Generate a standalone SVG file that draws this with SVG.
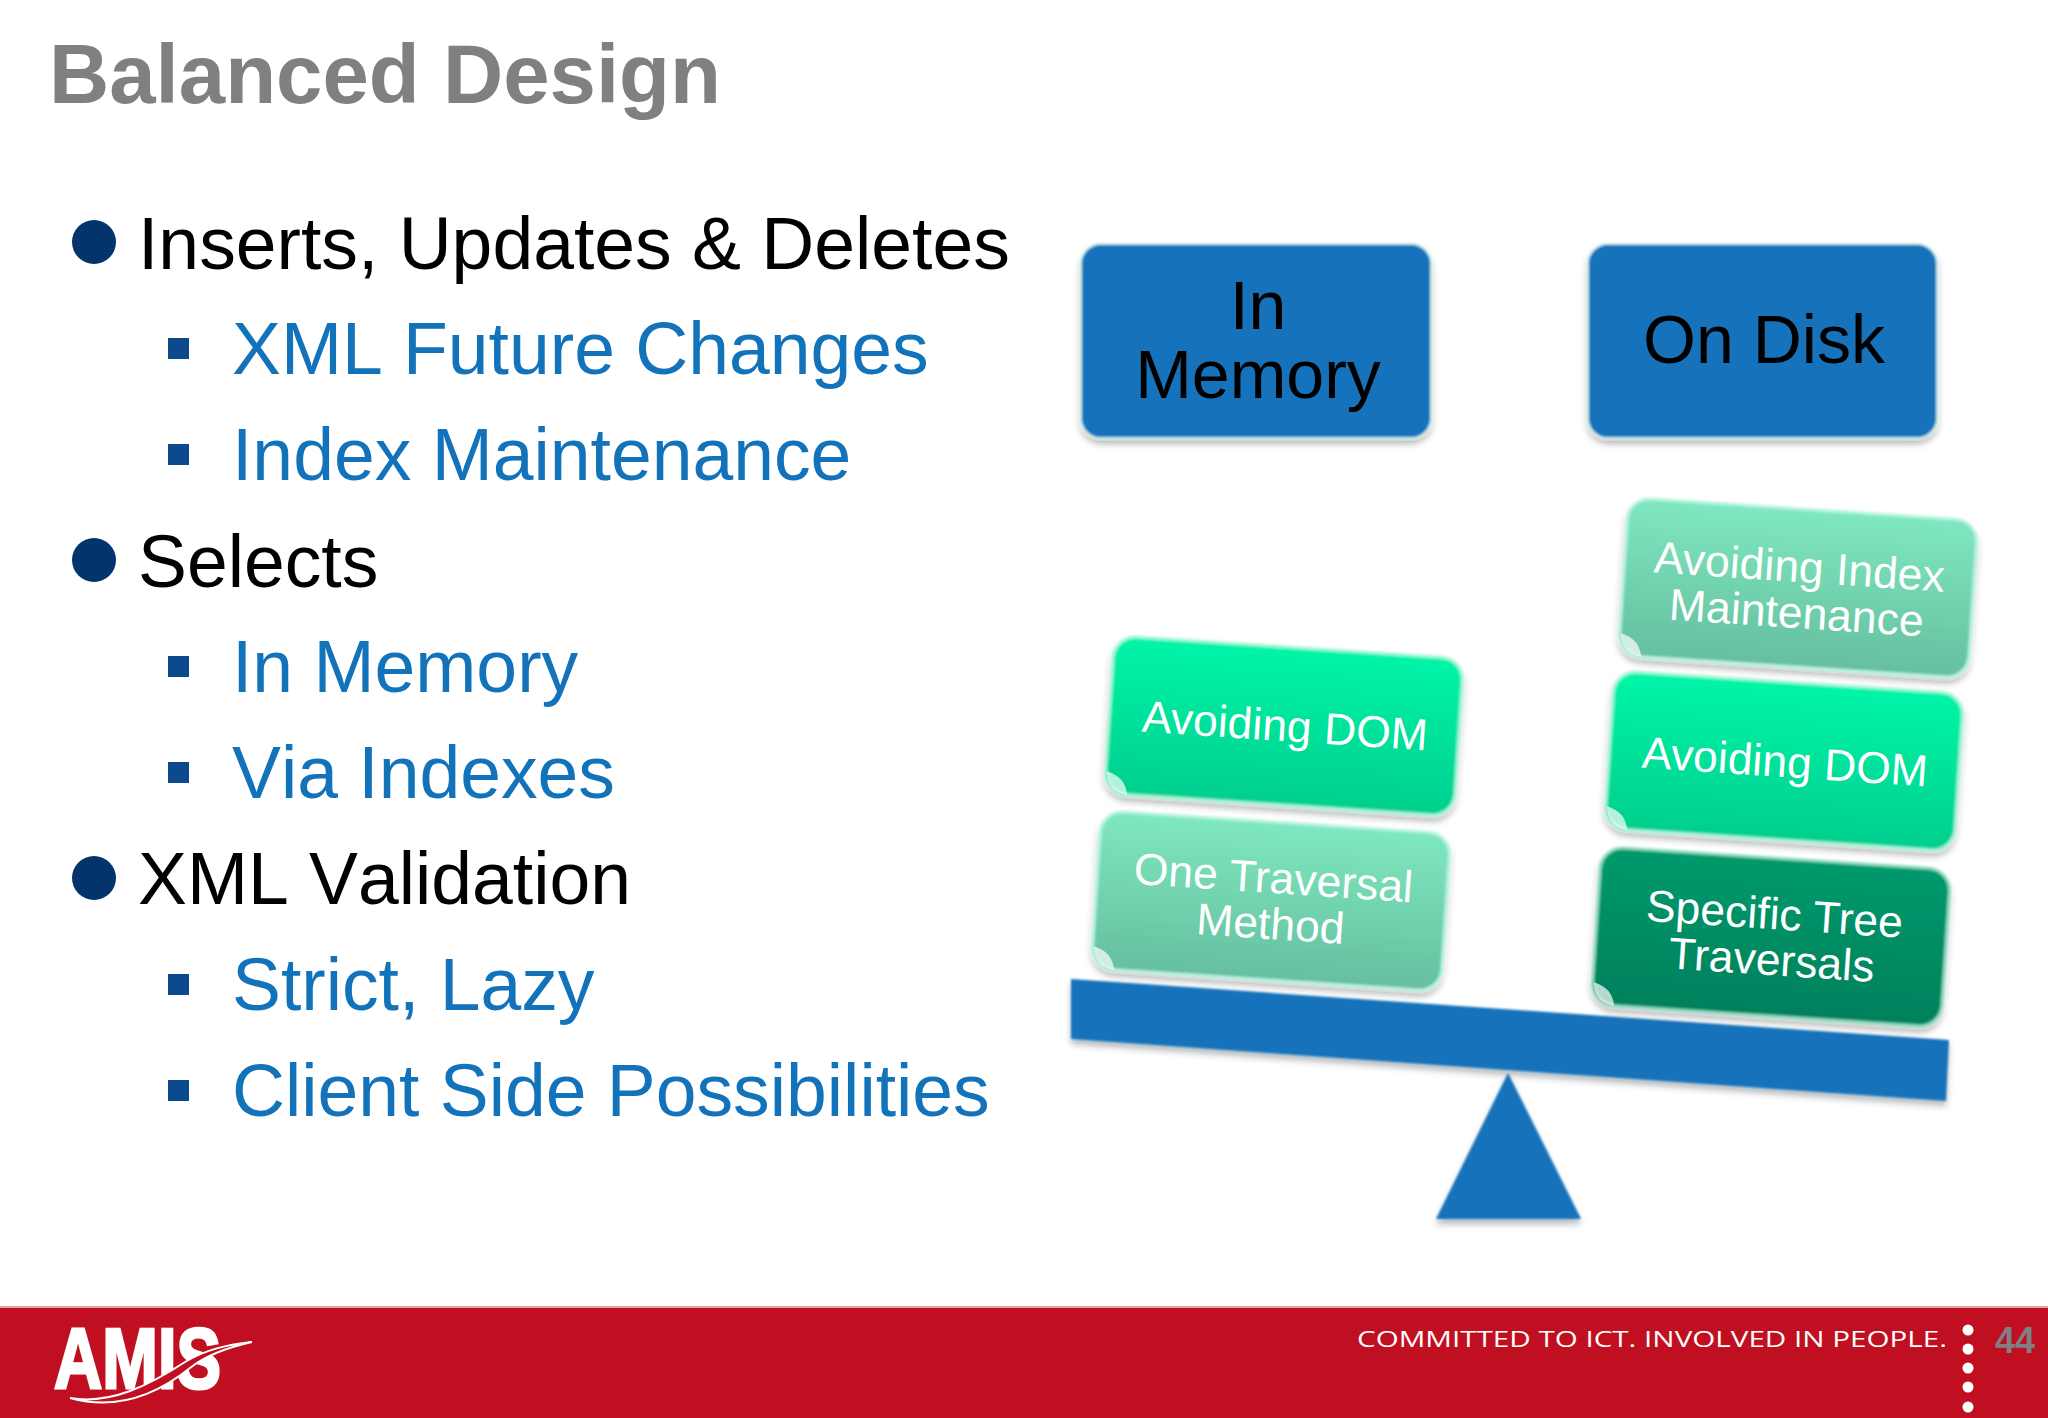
<svg xmlns="http://www.w3.org/2000/svg" width="2048" height="1418" viewBox="0 0 2048 1418">
<style>
text{font-family:"Liberation Sans",Arial,sans-serif}
.l1{font-size:73.3px;fill:#000;font-kerning:none}
.l2{font-size:73.3px;fill:#1272ba;font-kerning:none}
.dot{fill:#03346b}
.sq{fill:#0c4a8c}
.top{font-size:68px;fill:#000;text-anchor:middle}
.bt{font-size:44.5px;fill:#fff;text-anchor:middle}
.hl{fill:#fff;opacity:.7}
.foot{fill:#fff}
</style>
<defs>
<linearGradient id="gBright" x1="0" y1="0" x2="0" y2="1"><stop offset="0" stop-color="#00f5a8"/><stop offset="1" stop-color="#00cf8e"/></linearGradient>
<linearGradient id="gPale" x1="0" y1="0" x2="0" y2="1"><stop offset="0" stop-color="#7fe8c0"/><stop offset="1" stop-color="#66bf9f"/></linearGradient>
<linearGradient id="gDark" x1="0" y1="0" x2="0" y2="1"><stop offset="0" stop-color="#009a6c"/><stop offset="1" stop-color="#00805c"/></linearGradient>
<filter id="sh" x="-10%" y="-10%" width="120%" height="125%"><feGaussianBlur in="SourceGraphic" stdDeviation=".8" result="b"/><feDropShadow in="b" dx="0" dy="5" stdDeviation="3" flood-color="#000" flood-opacity=".28"/></filter>
</defs>
<rect width="2048" height="1418" fill="#fff"/>
<text id="title" x="49" y="103" style="font-size:83.4px;font-weight:700" fill="#808080">Balanced Design</text>
<g id="bullets">
<circle class="dot" cx="94" cy="242" r="22"/><text class="l1" x="138" y="269">Inserts, Updates &amp; Deletes</text>
<rect class="sq" x="168" y="338" width="21" height="21"/><text class="l2" x="232" y="374">XML Future Changes</text>
<rect class="sq" x="168" y="444" width="21" height="21"/><text class="l2" x="232" y="480">Index Maintenance</text>
<circle class="dot" cx="94" cy="560" r="22"/><text class="l1" x="138" y="587">Selects</text>
<rect class="sq" x="168" y="656" width="21" height="21"/><text class="l2" x="232" y="692">In Memory</text>
<rect class="sq" x="168" y="762" width="21" height="21"/><text class="l2" x="232" y="798">Via Indexes</text>
<circle class="dot" cx="94" cy="878" r="22"/><text class="l1" x="138" y="904">XML Validation</text>
<rect class="sq" x="168" y="974" width="21" height="21"/><text class="l2" x="232" y="1010">Strict, Lazy</text>
<rect class="sq" x="168" y="1080" width="21" height="21"/><text class="l2" x="232" y="1116">Client Side Possibilities</text>
</g>
<g id="node-in-memory">
<rect x="1081" y="244" width="350" height="194" rx="20" fill="#1272ba" stroke="#bfe9e6" stroke-width="2" filter="url(#sh)"/>
<text class="top" x="1258" y="329">In</text><text class="top" x="1258" y="398">Memory</text>
</g>
<g id="node-on-disk">
<rect x="1588" y="244" width="349" height="194" rx="20" fill="#1272ba" stroke="#bfe9e6" stroke-width="2" filter="url(#sh)"/>
<text class="top" x="1764" y="363">On Disk</text>
</g>
<g id="connectors"/>
<g id="node-beam"><polygon points="1071,979 1949,1040 1946,1101 1071,1039" fill="#1272ba" filter="url(#sh)"/></g>
<g id="node-fulcrum"><polygon points="1508,1073 1436,1219 1581,1219" fill="#1272ba" filter="url(#sh)"/></g>
<g id="node-one-traversal" transform="rotate(3.8 1271 901)">
<rect x="1096" y="822" width="350" height="158" rx="22" fill="url(#gPale)" stroke="#b8f4e0" stroke-width="3" filter="url(#sh)"/>
<path class="hl" d="M1097 958q3 21 22 22q-3-18-22-22z"/>
<text class="bt" x="1272" y="893">One Traversal</text><text class="bt" x="1272" y="939">Method</text>
</g>
<g id="node-avoiding-dom-left" transform="rotate(3.8 1284 726)">
<rect x="1109" y="647" width="350" height="158" rx="22" fill="url(#gBright)" stroke="#a8f5dc" stroke-width="3" filter="url(#sh)"/>
<path class="hl" d="M1110 783q3 21 22 22q-3-18-22-22z"/>
<text class="bt" x="1285" y="741">Avoiding DOM</text>
</g>
<g id="node-specific-tree" transform="rotate(3.8 1771 938)">
<rect x="1596" y="858" width="350" height="158" rx="22" fill="url(#gDark)" stroke="#8fdcc3" stroke-width="3" filter="url(#sh)"/>
<path class="hl" d="M1597 994q3 21 22 22q-3-18-22-22z"/>
<text class="bt" x="1773" y="929">Specific Tree</text><text class="bt" x="1773" y="975">Traversals</text>
</g>
<g id="node-avoiding-dom-right" transform="rotate(3.8 1784 763)">
<rect x="1609" y="682" width="350" height="158" rx="22" fill="url(#gBright)" stroke="#a8f5dc" stroke-width="3" filter="url(#sh)"/>
<path class="hl" d="M1610 818q3 21 22 22q-3-18-22-22z"/>
<text class="bt" x="1785" y="777">Avoiding DOM</text>
</g>
<g id="node-avoiding-index" transform="rotate(3.8 1798 590)">
<rect x="1623" y="509" width="350" height="158" rx="22" fill="url(#gPale)" stroke="#b8f4e0" stroke-width="3" filter="url(#sh)"/>
<path class="hl" d="M1624 645q3 21 22 22q-3-18-22-22z"/>
<text class="bt" x="1798" y="582">Avoiding Index</text><text class="bt" x="1798" y="628">Maintenance</text>
</g>
<g id="footer">
<rect y="1307" width="2048" height="111" fill="#c00f20"/>
<rect y="1306" width="2048" height="2" fill="#e8a0a8"/>
<text x="54" y="1388" style="font-size:86px;font-weight:700" fill="#fff" stroke="#fff" stroke-width="3" textLength="167" lengthAdjust="spacingAndGlyphs">AMIS</text>
<path d="M70 1398C110 1405 150 1385 185 1362C205 1350 225 1345 252 1342C225 1348 205 1356 190 1368C160 1392 120 1412 70 1398z" fill="#c00f20" stroke="#fff" stroke-width="2"/>
<text x="1357" y="1347" style="font-family:'Open Sans','Liberation Sans',sans-serif;font-size:22px" fill="#fff" textLength="590" lengthAdjust="spacingAndGlyphs">COMMITTED TO ICT. INVOLVED IN PEOPLE.</text>
<circle class="foot" cx="1968" cy="1330" r="5.5"/><circle class="foot" cx="1968" cy="1349" r="5.5"/><circle class="foot" cx="1968" cy="1368" r="5.5"/><circle class="foot" cx="1968" cy="1387" r="5.5"/><circle class="foot" cx="1968" cy="1407" r="5.5"/>
<text x="1995" y="1353" style="font-size:36px;font-weight:700" fill="#7f7f85" textLength="40" lengthAdjust="spacingAndGlyphs">44</text>
</g>
</svg>
